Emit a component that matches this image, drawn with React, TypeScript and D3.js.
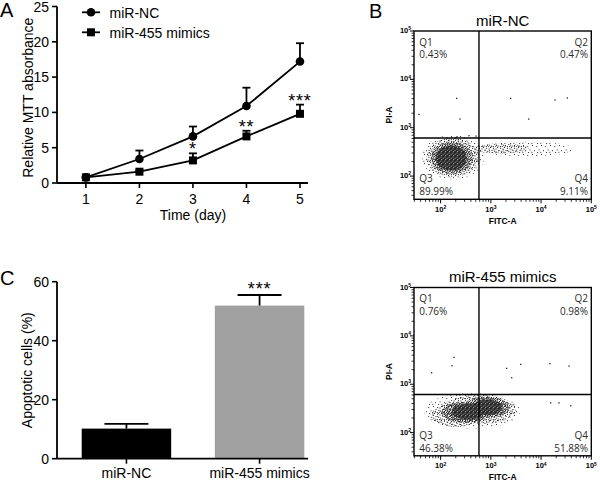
import React from "react";
import * as d3 from "d3";

// ---------- Panel A data ----------
const days = [1, 2, 3, 4, 5];
const ncMean = [0.8, 3.4, 6.6, 10.9, 17.2];
const ncErr = [0.1, 1.2, 1.4, 2.6, 2.6];
const mimMean = [0.8, 1.6, 3.2, 6.6, 9.8];
const mimErr = [0.1, 0.2, 1.0, 0.8, 1.3];
const sigA = ["", "", "*", "**", "***"];
const yTicksA = [0, 5, 10, 15, 20, 25];
const seriesNames = ["miR-NC", "miR-455 mimics"];

// ---------- Panel C data ----------
const groupsC = ["miR-NC", "miR-455 mimics"];
const meansC = [10.2, 51.9];
const errsC = [1.6, 3.6];
const sigC = ["", "***"];
const yTicksC = [0, 20, 40, 60];

// ---------- Panel B data (flow cytometry, log10 units) ----------
const flowTitles = ["miR-NC", "miR-455 mimics"];
const ncQuads = ["0.43%", "0.47%", "89.99%", "9.11%"];
const mimQuads = ["0.76%", "0.98%", "46.38%", "51.88%"];
const fitcGate = 580;
const piGate = 612;
// event-density regions: log10 FITC centre, log10 PI centre, spread (decades), density level 0..3
const ncCloud = [
  { fitc: 2.245, pi: 2.39, sx: 0.62, sy: 0.46, level: 0 },
  { fitc: 3.7, pi: 2.56, sx: 0.95, sy: 0.15, level: 0 },
  { fitc: 3.2, pi: 2.57, sx: 0.55, sy: 0.1, level: 1 },
  { fitc: 2.235, pi: 2.385, sx: 0.52, sy: 0.4, level: 1 },
  { fitc: 2.225, pi: 2.38, sx: 0.42, sy: 0.33, level: 2 },
  { fitc: 2.21, pi: 2.375, sx: 0.31, sy: 0.26, level: 3 },
];
const mimCloud = [
  { fitc: 2.62, pi: 2.445, sx: 0.96, sy: 0.37, level: 0 },
  { fitc: 2.3, pi: 2.36, sx: 0.5, sy: 0.24, level: 1 },
  { fitc: 2.75, pi: 2.47, sx: 0.75, sy: 0.3, level: 1 },
  { fitc: 2.5, pi: 2.42, sx: 0.48, sy: 0.22, level: 2 },
  { fitc: 2.92, pi: 2.52, sx: 0.45, sy: 0.22, level: 2 },
  { fitc: 2.55, pi: 2.43, sx: 0.33, sy: 0.16, level: 3 },
  { fitc: 2.93, pi: 2.52, sx: 0.3, sy: 0.16, level: 3 },
];
// sparse events [FITC, PI]
const ncEvents = [
  [37, 1890], [208, 4060], [242, 1513], [2477, 4060], [5660, 1513],
  [18900, 3750], [33300, 4120], [211, 651], [366, 686], [505, 673],
];
const mimEvents = [
  [66, 1730], [168, 2415], [184, 3600], [2065, 2135], [2595, 1365],
  [3925, 2580], [15000, 2655], [36000, 2380], [15500, 414], [22700, 414], [39000, 359],
];

const ARIAL = "'Liberation Sans', Arial, sans-serif";
const SEGOE = "'Open Sans', 'Noto Sans', sans-serif";

function PanelA() {
  const x = d3.scaleLinear().domain([0.46, 5.15]).range([57, 308]);
  const y = d3.scaleLinear().domain([0, 25]).range([183, 6.5]);
  const line = d3.line<number>().x((_, i) => x(days[i])).y((v) => y(v));
  const sq = 8;
  return (
    <g>
      <text x={0} y={17} fontSize={20} fontFamily={ARIAL}>A</text>
      <line x1={57} x2={57} y1={y(25)} y2={y(0)} stroke="#000" strokeWidth={1.8} />
      <line x1={57} x2={308} y1={y(0)} y2={y(0)} stroke="#000" strokeWidth={1.8} />
      {yTicksA.map((t) => (
        <g key={t}>
          <line x1={52} x2={57} y1={y(t)} y2={y(t)} stroke="#000" strokeWidth={1.6} />
          <text x={49} y={y(t) + 5} textAnchor="end" fontSize={14} fontFamily={ARIAL}>{t}</text>
        </g>
      ))}
      {days.map((d) => (
        <g key={d}>
          <line x1={x(d)} x2={x(d)} y1={y(0)} y2={y(0) + 5} stroke="#000" strokeWidth={1.6} />
          <text x={x(d)} y={204} textAnchor="middle" fontSize={14} fontFamily={ARIAL}>{d}</text>
        </g>
      ))}
      <text x={x(3)} y={220} textAnchor="middle" fontSize={14} fontFamily={ARIAL}>Time (day)</text>
      <text transform={`translate(33,${(y(0) + y(25)) / 2 + 3}) rotate(-90)`} textAnchor="middle" fontSize={14} fontFamily={ARIAL}>
        Relative MTT absorbance
      </text>
      <path d={line(ncMean) || ""} fill="none" stroke="#000" strokeWidth={1.8} />
      <path d={line(mimMean) || ""} fill="none" stroke="#000" strokeWidth={1.8} />
      {days.map((d, i) => (
        <g key={"e" + d} stroke="#000" strokeWidth={1.8}>
          <line x1={x(d)} x2={x(d)} y1={y(ncMean[i])} y2={y(ncMean[i] + ncErr[i])} />
          <line x1={x(d) - 4} x2={x(d) + 4} y1={y(ncMean[i] + ncErr[i])} y2={y(ncMean[i] + ncErr[i])} />
          <line x1={x(d)} x2={x(d)} y1={y(mimMean[i])} y2={y(mimMean[i] + mimErr[i])} />
          <line x1={x(d) - 4} x2={x(d) + 4} y1={y(mimMean[i] + mimErr[i])} y2={y(mimMean[i] + mimErr[i])} />
        </g>
      ))}
      {days.map((d, i) => (
        <g key={"m" + d}>
          <circle cx={x(d)} cy={y(ncMean[i])} r={4.3} fill="#000" />
          <rect x={x(d) - sq / 2} y={y(mimMean[i]) - sq / 2} width={sq} height={sq} fill="#000" />
        </g>
      ))}
      {sigA.map((s, i) =>
        s ? (
          <text key={"s" + i} x={x(days[i])} y={y(mimMean[i] + mimErr[i]) + 2} textAnchor="middle" fontSize={18} letterSpacing={0.8} fontFamily={ARIAL}>
            {s}
          </text>
        ) : null
      )}
      <line x1={82} x2={100} y1={12.3} y2={12.3} stroke="#000" strokeWidth={1.8} />
      <circle cx={91} cy={12.3} r={4.3} fill="#000" />
      <text x={109.5} y={17.5} fontSize={14} fontFamily={ARIAL}>{seriesNames[0]}</text>
      <line x1={82} x2={100} y1={32.3} y2={32.3} stroke="#000" strokeWidth={1.8} />
      <rect x={91 - sq / 2} y={32.3 - sq / 2} width={sq} height={sq} fill="#000" />
      <text x={109.5} y={37.5} fontSize={14} fontFamily={ARIAL}>{seriesNames[1]}</text>
    </g>
  );
}

function PanelC() {
  const x = d3.scaleBand<string>().domain(groupsC).range([81.7, 304.3]).paddingInner(0.328).paddingOuter(0);
  const y = d3.scaleLinear().domain([0, 60]).range([458.7, 281.7]);
  const fills = ["#000", "#a0a0a0"];
  return (
    <g>
      <text x={0} y={285} fontSize={20} fontFamily={ARIAL}>C</text>
      {groupsC.map((g, i) => {
        const cx = (x(g) as number) + x.bandwidth() / 2;
        const top = y(meansC[i] + errsC[i]);
        return (
          <g key={g}>
            <rect x={x(g)} y={y(meansC[i])} width={x.bandwidth()} height={y(0) - y(meansC[i])} fill={fills[i]} />
            <line x1={cx} x2={cx} y1={y(meansC[i])} y2={top} stroke="#000" strokeWidth={1.8} />
            <line x1={cx - 22} x2={cx + 22} y1={top} y2={top} stroke="#000" strokeWidth={1.8} />
            {sigC[i] ? (
              <text x={cx} y={top} textAnchor="middle" fontSize={18} letterSpacing={0.8} fontFamily={ARIAL}>{sigC[i]}</text>
            ) : null}
            <line x1={cx} x2={cx} y1={y(0)} y2={y(0) + 5} stroke="#000" strokeWidth={1.6} />
            <text x={cx} y={478} textAnchor="middle" fontSize={14} fontFamily={ARIAL}>{g}</text>
          </g>
        );
      })}
      <line x1={57} x2={57} y1={y(60)} y2={y(0)} stroke="#000" strokeWidth={1.8} />
      <line x1={57} x2={308} y1={y(0)} y2={y(0)} stroke="#000" strokeWidth={1.8} />
      {yTicksC.map((t) => (
        <g key={t}>
          <line x1={52} x2={57} y1={y(t)} y2={y(t)} stroke="#000" strokeWidth={1.6} />
          <text x={49} y={y(t) + 5} textAnchor="end" fontSize={14} fontFamily={ARIAL}>{t}</text>
        </g>
      ))}
      <text transform={`translate(32,${(y(0) + y(60)) / 2}) rotate(-90)`} textAnchor="middle" fontSize={14} fontFamily={ARIAL}>
        Apoptotic cells (%)
      </text>
    </g>
  );
}

type Cloud = { fitc: number; pi: number; sx: number; sy: number; level: number };

function FlowPlot({ top, title, quads, cloud, events, idx }: { top: number; title: string; quads: string[]; cloud: Cloud[]; events: number[][]; idx: number }) {
  const left = 414, right = 591.3, h = 168.3;
  const x = d3.scaleLog().domain([10 ** 1.47, 1e5]).range([left, right]);
  const y = d3.scaleLog().domain([10 ** 1.52, 1e5]).range([top + h, top]);
  const bottom = top + h;
  const majors = [2, 3, 4, 5];
  const minors: number[] = [];
  for (let d = 1; d <= 4; d++) for (let k = 2; k <= 9; k++) minors.push(k * 10 ** d);
  const inX = (v: number) => v >= x.domain()[0] && v <= x.domain()[1];
  const inY = (v: number) => v >= y.domain()[0] && v <= y.domain()[1];
  const pats = ["sp0", "sp1", "sp2", "sp3"];
  const clipId = "flowclip" + idx;
  return (
    <g>
      <clipPath id={clipId}>
        <rect x={left} y={top} width={right - left} height={h} />
      </clipPath>
      <text x={(left + right) / 2} y={top - 5.5} textAnchor="middle" fontSize={15} fontFamily={ARIAL}>{title}</text>
      <g clipPath={`url(#${clipId})`}>
        {cloud.map((c, i) => {
          const cx = x(10 ** c.fitc);
          const cy = y(10 ** c.pi);
          const rx = x(10 ** (c.fitc + c.sx)) - cx;
          const ry = cy - y(10 ** (c.pi + c.sy));
          return <ellipse key={i} cx={cx} cy={cy} rx={rx} ry={ry} fill={`url(#${pats[c.level]})`} />;
        })}
        {events.map((e, i) => (
          <rect key={i} x={x(e[0]) - 0.6} y={y(e[1]) - 0.6} width={1.3} height={1.3} fill="#222" />
        ))}
      </g>
      <rect x={left} y={top} width={right - left} height={h} fill="none" stroke="#000" strokeWidth={1.4} />
      <line x1={x(fitcGate)} x2={x(fitcGate)} y1={top} y2={bottom} stroke="#000" strokeWidth={1.4} />
      <line x1={left} x2={right} y1={y(piGate)} y2={y(piGate)} stroke="#000" strokeWidth={1.4} />
      {minors.filter(inX).map((v) => (
        <line key={"xm" + v} x1={x(v)} x2={x(v)} y1={bottom} y2={bottom + 2.5} stroke="#000" strokeWidth={0.8} />
      ))}
      {minors.filter(inY).map((v) => (
        <line key={"ym" + v} x1={left - 2.5} x2={left} y1={y(v)} y2={y(v)} stroke="#000" strokeWidth={0.8} />
      ))}
      {majors.map((m) => (
        <g key={"M" + m}>
          <line x1={x(10 ** m)} x2={x(10 ** m)} y1={bottom} y2={bottom + 4} stroke="#000" strokeWidth={1} />
          <text x={x(10 ** m)} y={bottom + 12.5} textAnchor="middle" fontSize={7.5} fontWeight="bold" fontFamily={ARIAL}>
            10<tspan dy={-2.8} fontSize={5}>{m}</tspan>
          </text>
          <line x1={left - 4} x2={left} y1={y(10 ** m)} y2={y(10 ** m)} stroke="#000" strokeWidth={1} />
          <text x={left - 3} y={y(10 ** m) + 2} textAnchor="end" fontSize={7.5} fontWeight="bold" fontFamily={ARIAL}>
            10<tspan dy={-2.8} fontSize={5}>{m}</tspan>
          </text>
        </g>
      ))}
      <text x={(left + right) / 2} y={bottom + 24.5} textAnchor="middle" fontSize={8.5} fontWeight="bold" fontFamily={ARIAL}>FITC-A</text>
      <text transform={`translate(392,${top + 84}) rotate(-90)`} textAnchor="middle" fontSize={8.5} fontWeight="bold" fontFamily={ARIAL}>PI-A</text>
      <g fontSize={10} fontFamily={SEGOE} fill="#2b2b2b">
        <text x={419.3} y={top + 14.5}>Q1</text>
        <text x={419.3} y={top + 27.3}>{quads[0]}</text>
        <text x={588} y={top + 14.5} textAnchor="end">Q2</text>
        <text x={588} y={top + 27.3} textAnchor="end">{quads[1]}</text>
        <text x={419.3} y={top + 151}>Q3</text>
        <text x={419.3} y={top + 164.3}>{quads[2]}</text>
        <text x={588} y={top + 151} textAnchor="end">Q4</text>
        <text x={588} y={top + 164.3} textAnchor="end">{quads[3]}</text>
      </g>
    </g>
  );
}

function Dots({ pts, s, c }: { pts: number[][]; s: number; c: string }) {
  return (
    <>
      {pts.map((p, i) => (
        <rect key={i} x={p[0]} y={p[1]} width={s} height={s} fill={c} />
      ))}
    </>
  );
}

export default function App() {
  return (
    <svg width={600} height={484} style={{ position: "absolute", left: 0, top: 0, background: "#fff" }}>
      <defs>
        <pattern id="sp0" width={9} height={9} patternUnits="userSpaceOnUse">
          <Dots s={1} c="#333" pts={[[1, 1], [5.2, 2.1], [7.6, 5.4], [3, 6.2], [0.3, 7.8], [6.1, 8]]} />
        </pattern>
        <pattern id="sp1" width={7} height={7} patternUnits="userSpaceOnUse">
          <Dots s={1.05} c="#2a2a2a" pts={[[0, 0], [3, 0.8], [5.5, 1.5], [1.5, 3], [4.2, 3.8], [6.2, 4.6], [0.6, 5.5], [2.8, 6], [5, 6.2]]} />
        </pattern>
        <pattern id="sp2" width={5} height={5} patternUnits="userSpaceOnUse">
          <Dots s={1.1} c="#222" pts={[[0, 0], [2, 0.4], [3.8, 0.9], [1, 1.8], [3, 2.3], [0.2, 3.2], [2, 3.5], [4, 3.7], [1.2, 4.5], [3.1, 4.6]]} />
        </pattern>
        <pattern id="sp3" width={4} height={4} patternUnits="userSpaceOnUse">
          <rect x={0} y={0} width={4} height={4} fill="#262626" />
          <Dots s={0.9} c="#cfcfcf" pts={[[0.5, 0.6], [2.7, 1.8], [1.2, 3]]} />
        </pattern>
      </defs>
      <rect x={0} y={0} width={600} height={484} fill="#fff" />
      <PanelA />
      <PanelC />
      <text x={369} y={17.5} fontSize={20} fontFamily={ARIAL}>B</text>
      <FlowPlot top={31} title={flowTitles[0]} quads={ncQuads} cloud={ncCloud} events={ncEvents} idx={0} />
      <FlowPlot top={287.5} title={flowTitles[1]} quads={mimQuads} cloud={mimCloud} events={mimEvents} idx={1} />
    </svg>
  );
}
